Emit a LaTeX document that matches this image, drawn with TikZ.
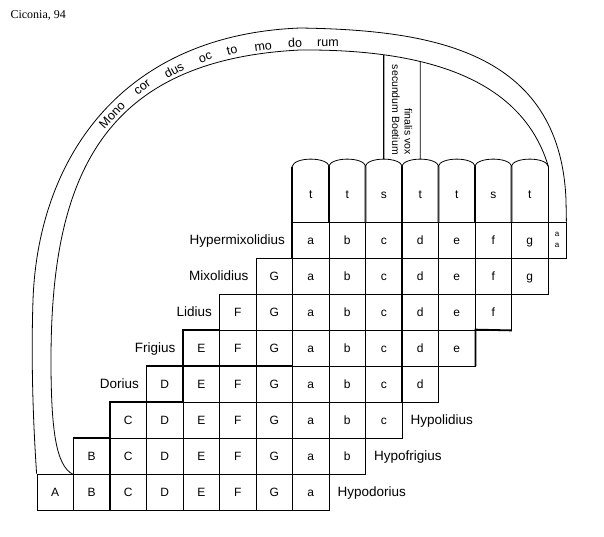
\documentclass[tikz,border=0pt]{standalone}
\usepackage{fontspec}
\setmainfont{Liberation Sans}
\newfontfamily\ciconiafont{Liberation Serif}
\usetikzlibrary{positioning,intersections}

\begin{document}
\begin{tikzpicture}[x=1pt,y=-1pt,
    cell/.style={draw, line width=.8pt, minimum width=36.5pt, minimum height=36pt, inner sep=0pt,
      text height=8.6pt, text depth=0pt, font=\fontsize{12}{14}\selectfont},
    lab/.style={inner sep=1pt, text height=9.7pt, text depth=0pt, font=\fontsize{13.5}{16}\selectfont},
    syl/.style={inner sep=0pt, text height=8.6pt, text depth=0pt, font=\fontsize{12.5}{14}\selectfont},
    heavy/.style={line width=1.8pt},
    band/.style={line width=.8pt}]

  \useasboundingbox (0,0) rectangle (604,536);

  \node[anchor=base west, font=\ciconiafont\fontsize{12}{14}\selectfont] (title) at (7,18) {Ciconia, 94};

  % the eight scales
  \foreach \r/\row in {0/{A,B,C,D,E,F,G,a}, 1/{B,C,D,E,F,G,a,b}, 2/{C,D,E,F,G,a,b,c},
      3/{D,E,F,G,a,b,c,d}, 4/{E,F,G,a,b,c,d,e}, 5/{F,G,a,b,c,d,e,f},
      6/{G,a,b,c,d,e,f,g}, 7/{a,b,c,d,e,f,g}}
    \foreach \n [count=\c from \r] in \row
      \node[cell] (c\r-\c) at ({55.25+36.5*\c},{492-36*\r}) {\n};
  \node[draw, line width=.8pt, minimum width=18pt, minimum height=36pt, inner sep=0pt,
    align=center, font=\fontsize{8}{11}\selectfont] (aa) at (557,240) {a\\a};

  % tones and semitones
  \foreach \s [count=\c from 7] in {t,t,s,t,t,s,t}
    \node[cell, draw=none, minimum height=55pt] (t\c) at ({55.25+36.5*\c},194.5) {\s};
  \foreach \c in {7,...,13}
    \draw[band] (t\c.south west) -- (t\c.north west)
      .. controls +(2,-10) and +(-2,-10) .. (t\c.north east) -- (t\c.south east);

  \node[lab, right=7pt of c0-7] (hypodorius) {Hypodorius};
  \node[lab, right=7pt of c1-8] (hypofrigius) {Hypofrigius};
  \node[lab, right=7pt of c2-9] (hypolidius) {Hypolidius};
  \node[lab, left=6pt of c3-3] (dorius) {Dorius};
  \node[lab, left=6pt of c4-4] (frigius) {Frigius};
  \node[lab, left=6pt of c5-5] (lidius) {Lidius};
  \node[lab, left=6pt of c6-6] (mixolidius) {Mixolidius};
  \node[lab, left=6pt of c7-7] (hypermixolidius) {Hypermixolidius};

  % heavy rules
  \draw[heavy] (c0-2.south west) -- (c2-2.north west) -- (c2-4.north west)
    -- (c4-4.north west) -- (c4-5.north west);
  \draw[heavy] (c1-1.north west) -- (c1-2.north west);
  \draw[heavy] (c3-3.north west) -- (c3-7.north west);
  \draw[heavy] (t7.north west) -- (c7-7.south west);
  \draw[heavy] (t10.north west) -- (c3-10.south west);
  \draw[heavy] (t13.north east) -- (c6-13.south east);
  \draw[heavy] (c5-12.south east) -- (c4-11.north east) -- (c4-11.south east);

  % the band
  \draw[band] (c0-0.north west) .. controls (33,420) and (31,360) .. (33,300)
    .. controls (38,160) and (120,35) .. (300,28)
    .. controls (430,30) and (560,50) .. (566,200) -- (aa.north east);
  \draw[band, name path=inner] (c1-1.south west) .. controls (56,466) and (51,430) .. (51,360)
    .. controls (51,180) and (100,60) .. (300,50)
    .. controls (425,49) and (522,78) .. (t13.north east);

  \foreach \w/\x/\y/\a [count=\i] in {Mono/112/115/47, cor/142/87/37, dus/174/70/28, oc/205/57/20,
      to/232/50/14, mo/263/46/8, do/295/43/4, rum/328/42/0}
    \node[syl, rotate=\a] (w\i) at (\x,\y) {\w};

  % finalis box
  \coordinate (p9) at ([yshift=7.5pt]t9.north);
  \coordinate (p10) at ([yshift=7.5pt]t10.north);
  \path[name path=v9] (p9) -- ++(0,-150);
  \path[name path=v10] (p10) -- ++(0,-150);
  \path[name intersections={of=inner and v9, by=q9}];
  \path[name intersections={of=inner and v10, by=q10}];
  \draw[line width=1.4pt] (p9) -- (q9);
  \draw[band] (p10) -- (q10);
  \node[rotate=-90, anchor=east, align=right, inner sep=0pt, font=\fontsize{10.5}{12.5}\selectfont]
    (finalis) at (402,155) {finalis vox\\secundum Boetium};

\end{tikzpicture}
\end{document}
